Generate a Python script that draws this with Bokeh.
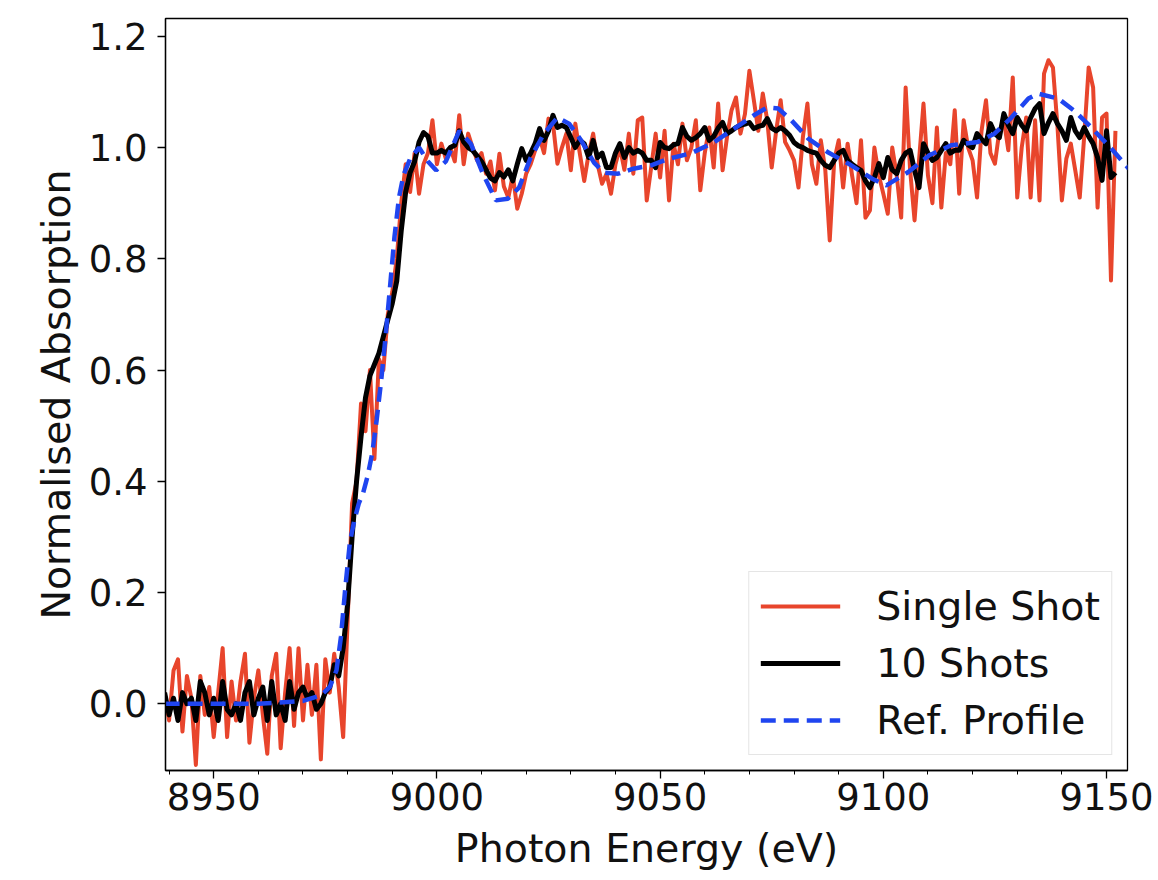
from bokeh.plotting import figure
from bokeh.models import (ColumnDataSource, Range1d, FixedTicker, PrintfTickFormatter,
                          Legend, LegendItem)
from bokeh.embed import file_html
from bokeh.resources import INLINE

# ---------------- data ----------------
energy = list(range(8939, 9153))  # eV, 1 eV sampling

single_shot = [
    0.02, -0.03, 0.06, 0.08, -0.05, 0.05, 0.01, -0.11, 0.05, -0.02,
    0.03, -0.06, 0.02, 0.10, -0.06, 0.04, -0.03, 0.04, 0.09, -0.07,
    0.01, 0.06, -0.02, -0.09, 0.05, 0.09, -0.08, 0.02, 0.10, -0.04,
    0.10, -0.03, 0.07, -0.02, 0.07, -0.10, 0.08, 0.02, 0.09, 0.03,
    -0.06, 0.15, 0.36, 0.40, 0.54, 0.49, 0.60, 0.44, 0.62, 0.60,
    0.70, 0.74, 0.80, 0.90, 0.97, 0.92, 0.99, 0.917, 0.97, 0.99,
    1.049, 0.97, 1.007, 0.98, 1.0, 0.975, 1.058, 0.97, 1.025, 1.0,
    0.977, 0.99, 0.953, 0.975, 0.923, 0.989, 0.93, 0.91, 0.95, 0.89,
    0.917, 0.953, 0.97, 0.995, 1.018, 0.99, 1.052, 1.043, 0.971, 1.0,
    1.025, 0.959, 1.043, 0.99, 0.94, 0.989, 1.025, 0.97, 0.935, 0.953,
    0.917, 0.97, 1.0, 0.96, 1.025, 0.953, 1.049, 1.054, 0.905, 0.964,
    1.025, 0.946, 1.03, 0.905, 1.007, 0.97, 1.043, 0.977, 1.0, 1.049,
    0.923, 0.99, 1.036, 0.964, 1.079, 0.959, 1.02, 1.067, 1.09, 1.025,
    1.06, 1.138, 1.085, 1.03, 1.097, 1.049, 0.964, 1.03, 1.085, 1.01,
    0.995, 0.977, 0.928, 1.02, 1.079, 0.97, 0.935, 1.013, 0.96, 0.833,
    0.977, 1.013, 0.928, 1.007, 0.95, 0.9, 1.013, 0.874, 0.887, 1.0,
    0.95, 0.917, 0.881, 1.0, 0.95, 0.874, 1.108, 0.96, 0.869, 0.977,
    1.079, 0.95, 0.9, 1.036, 0.892, 0.99, 0.97, 1.067, 0.917, 1.049,
    1.0, 0.977, 0.91, 1.03, 1.085, 0.99, 0.971, 1.03, 1.049, 0.995,
    1.126, 0.91, 1.0, 1.054, 0.91, 1.049, 0.905, 1.133, 1.157, 1.144,
    1.04, 0.905, 0.98, 1.007, 0.959, 0.91, 1.02, 1.144, 1.108, 0.892,
    1.054, 1.061, 0.761, 1.03,
]

ten_shots = [
    0.02, -0.02, 0.01, -0.03, 0.02, 0.00, 0.01, -0.03, 0.04, 0.02,
    -0.02, 0.01, -0.03, 0.04, -0.01, -0.02, 0.00, -0.03, 0.02, 0.04,
    -0.02, 0.01, 0.03, -0.03, 0.04, -0.02, 0.00, -0.03, 0.04, -0.01,
    0.02, 0.03, 0.01, 0.02, -0.01, 0.00, 0.02, 0.03, 0.07, 0.05,
    0.10, 0.18, 0.30, 0.40, 0.48, 0.55, 0.59, 0.61, 0.63, 0.66,
    0.69, 0.72, 0.76, 0.85, 0.92, 0.955, 0.975, 1.01, 1.027, 1.02,
    0.99, 0.99, 0.995, 0.99, 1.0, 1.004, 1.03, 1.01, 1.0, 0.995,
    0.985, 0.975, 0.96, 0.945, 0.94, 0.955, 0.947, 0.96, 0.94, 0.97,
    0.998, 0.977, 0.99, 1.007, 1.034, 1.013, 1.03, 1.058, 1.036, 1.04,
    1.036, 1.018, 1.0, 1.013, 1.007, 0.982, 1.013, 0.982, 0.99, 0.964,
    0.964, 0.99, 1.007, 0.982, 1.0, 0.99, 0.995, 0.99, 0.977, 0.977,
    0.964, 1.009, 1.0, 0.998, 1.005, 1.007, 1.036, 1.02, 1.013, 1.018,
    1.025, 1.036, 1.013, 1.02, 1.035, 1.045, 1.025, 1.03, 1.036, 1.04,
    1.042, 1.045, 1.034, 1.038, 1.04, 1.052, 1.035, 1.03, 1.036, 1.03,
    1.022, 1.009, 1.003, 1.0, 0.995, 0.992, 0.99, 0.977, 0.968, 0.964,
    0.977, 0.99, 0.995, 0.977, 0.97, 0.964, 0.959, 0.94, 0.928, 0.946,
    0.971, 0.946, 0.982, 0.96, 0.953, 0.977, 0.99, 0.995, 0.959, 0.928,
    1.007, 0.99, 0.977, 0.982, 0.995, 1.007, 0.99, 0.995, 0.995, 1.013,
    1.005, 1.0, 1.025, 1.015, 1.007, 1.043, 1.025, 1.018, 1.061, 1.04,
    1.025, 1.054, 1.04, 1.03, 1.054, 1.07, 1.079, 1.025, 1.045, 1.061,
    1.043, 1.03, 1.013, 1.054, 1.03, 1.018, 1.036, 1.02, 1.007, 0.982,
    0.941, 1.03, 0.946, 0.955,
]

ref_energy = [
    8939, 8950, 8960, 8970, 8974, 8976, 8977.5, 8978.5, 8979.5, 8980.5,
    8981.5, 8982.5, 8983.5, 8984.5, 8985.5, 8986.5, 8987.5, 8988.5, 8989.5, 8990.5,
    8991.5, 8992.5, 8994, 8996, 8998, 8999.8, 9002, 9005, 9007.6, 9010.3,
    9013.2, 9015.9, 9018.4, 9021, 9024, 9027, 9029.6, 9032.3, 9035.2, 9037.4,
    9040.6, 9044, 9048, 9052, 9057, 9062, 9066.6, 9071, 9074, 9076.5,
    9079.4, 9083.2, 9087.7, 9092.2, 9097.5, 9100.7, 9105.6, 9110.3, 9115.2, 9121.2,
    9124.9, 9128.7, 9132.5, 9134.7, 9139.2, 9142.8, 9146.6, 9151.1, 9155,
]
ref_profile = [
    0.0, 0.0, 0.0, 0.005, 0.015, 0.03, 0.06, 0.12, 0.21, 0.29,
    0.33, 0.36, 0.38, 0.41, 0.45, 0.51, 0.58, 0.66, 0.75, 0.84,
    0.91, 0.95, 0.98, 1.0, 0.975, 0.959, 0.975, 1.03, 1.007, 0.953,
    0.905, 0.908, 0.928, 0.982, 1.025, 1.054, 1.043, 1.013, 0.973, 0.955,
    0.953, 0.962, 0.968, 0.98, 0.99, 1.009, 1.034, 1.058, 1.072, 1.07,
    1.049, 1.016, 0.991, 0.971, 0.944, 0.932, 0.956, 0.986, 1.004, 1.01,
    1.025, 1.054, 1.088, 1.097, 1.088, 1.066, 1.036, 0.998, 0.962,
]

series_labels = ["Single Shot", "10 Shots", "Ref. Profile"]
x_ticks = [8950, 9000, 9050, 9100, 9150]
x_minor = [8940, 8960, 8970, 8980, 8990, 9010, 9020, 9030, 9040, 9060, 9070,
           9080, 9090, 9110, 9120, 9130, 9140]
y_ticks = [0.0, 0.2, 0.4, 0.6, 0.8, 1.0, 1.2]

# ---------------- figure ----------------
FONT = "DejaVu Sans"
TICK_FS = "37px"
LABEL_FS = "39.5px"

p = figure(width=1158, height=880, output_backend="svg", toolbar_location=None,
           x_range=Range1d(8939.2, 9154.7), y_range=Range1d(-0.12, 1.232),
           min_border_left=165, min_border_right=31, min_border_top=18,
           min_border_bottom=110)
p.background_fill_color = "white"
p.border_fill_color = "white"
p.outline_line_color = "black"
p.outline_line_width = 1.3
p.xgrid.visible = False
p.ygrid.visible = False

src_single = ColumnDataSource(data=dict(x=energy, y=single_shot))
src_ten = ColumnDataSource(data=dict(x=energy, y=ten_shots))
src_ref = ColumnDataSource(data=dict(x=ref_energy, y=ref_profile))

r1 = p.line("x", "y", source=src_single, line_color="#E8452C", line_width=4,
            line_join="round")
r2 = p.line("x", "y", source=src_ten, line_color="black", line_width=5,
            line_join="round")
r3 = p.line("x", "y", source=src_ref, line_color="#1F45F0", line_width=4.5,
            line_dash="15 8")

for ax in (p.xaxis[0], p.yaxis[0]):
    ax.axis_line_color = "black"
    ax.axis_line_width = 1.3
    ax.major_tick_line_color = "black"
    ax.major_tick_line_width = 1.3
    ax.major_tick_out = 8
    ax.major_tick_in = 0
    ax.minor_tick_line_color = "black"
    ax.minor_tick_out = 4
    ax.minor_tick_in = 0
    ax.major_label_text_font = FONT
    ax.major_label_text_font_size = TICK_FS
    ax.major_label_text_color = "#111111"
    ax.axis_label_text_font = FONT
    ax.axis_label_text_font_size = LABEL_FS
    ax.axis_label_text_font_style = "normal"
    ax.axis_label_text_color = "#111111"

p.xaxis.ticker = FixedTicker(ticks=x_ticks, minor_ticks=x_minor)
p.xaxis.formatter = PrintfTickFormatter(format="%d")
p.xaxis.axis_label = "Photon Energy (eV)"
p.xaxis.major_label_standoff = 4
p.xaxis.axis_label_standoff = 12

p.yaxis.ticker = FixedTicker(ticks=y_ticks)
p.yaxis.formatter = PrintfTickFormatter(format="%.1f")
p.yaxis.axis_label = "Normalised Absorption"
p.yaxis.major_label_standoff = 10
p.yaxis.axis_label_standoff = 7

legend = Legend(items=[LegendItem(label=series_labels[0], renderers=[r1]),
                       LegendItem(label=series_labels[1], renderers=[r2]),
                       LegendItem(label=series_labels[2], renderers=[r3])],
                location="bottom_right")
legend.label_text_font = FONT
legend.label_text_font_size = LABEL_FS
legend.label_text_color = "#111111"
legend.glyph_width = 80
legend.glyph_height = 42
legend.label_height = 42
legend.label_standoff = 36
legend.spacing = 11
legend.padding = 11
legend.margin = 15
legend.border_line_color = "#cccccc"
legend.border_line_width = 1.5
legend.background_fill_alpha = 0.85
p.add_layout(legend)

open("out.html", "w").write(file_html(p, INLINE))
